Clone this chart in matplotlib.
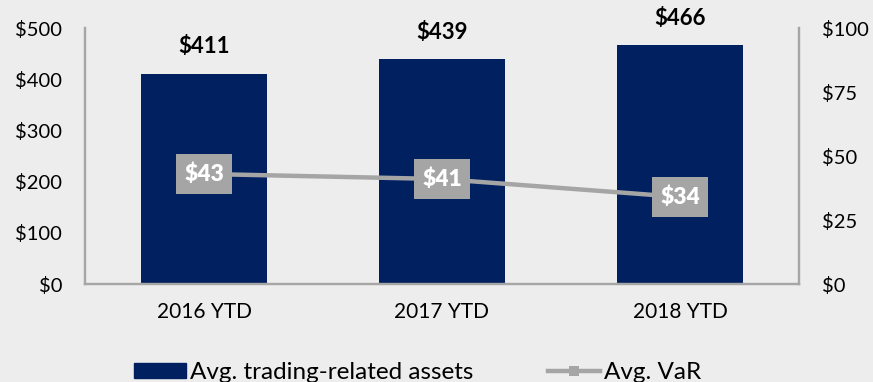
import matplotlib
matplotlib.use("Agg")
import matplotlib.pyplot as plt
from matplotlib.patches import Patch
from matplotlib.lines import Line2D
import numpy as np

# Data
years = ["2016 YTD", "2017 YTD", "2018 YTD"]
trading_assets = [411, 439, 466]
var_values = [43, 41, 34]
left_ticks = [0, 100, 200, 300, 400, 500]
right_ticks = [0, 25, 50, 75, 100]

bar_color = "#002060"
var_color = "#A5A5A5"
bg_color = "#EDEDED"
spine_color = "#A6A6A6"

plt.rcParams["font.family"] = ["Lato", "DejaVu Sans"]

fig = plt.figure(figsize=(8.73, 3.82), dpi=100, facecolor=bg_color)
ax = fig.add_axes([0.0974, 0.2565, 0.8178, 0.6702])
ax.set_facecolor(bg_color)

x = np.arange(len(years))
ax.bar(x, trading_assets, width=0.526, color=bar_color, zorder=2)
ax.set_xlim(-0.5, 2.5)
ax.set_ylim(0, 500)
ax.set_yticks(left_ticks)
ax.set_yticklabels(["$%d" % v for v in left_ticks], fontsize=14.5)
ax.set_xticks(x)
ax.set_xticklabels(years, fontsize=15)
ax.tick_params(axis="y", length=0, pad=16.5)
ax.tick_params(axis="x", length=0, pad=13)

for xi, v in zip(x, trading_assets):
    ax.annotate("$%d" % v, (xi, v), xytext=(0, 19.5), textcoords="offset points",
                ha="center", va="center", fontsize=16, fontweight="bold")

# Right axis for VaR, rectangular boxes as markers
ax2 = ax.twinx()
ax2.set_ylim(0, 100)
ax2.set_yticks(right_ticks)
ax2.set_yticklabels(["$%d" % v for v in right_ticks], fontsize=14.5)
ax2.tick_params(axis="y", length=0, pad=16.5)
box = [(-1, -0.70), (1, -0.70), (1, 0.70), (-1, 0.70), (-1, -0.70)]
ax2.plot(x, var_values, color=var_color, linewidth=3.2, marker=box,
         markersize=41, markeredgewidth=0, zorder=3)
for xi, v in zip(x, var_values):
    ax2.text(xi, v, "$%d" % v, ha="center", va="center", color="white",
             fontsize=16.5, fontweight="heavy", zorder=4)

for a in (ax, ax2):
    a.spines["top"].set_visible(False)
    for s in ("left", "right", "bottom"):
        a.spines[s].set_color(spine_color)
        a.spines[s].set_linewidth(1.6)

handles = [Patch(color=bar_color),
           Line2D([0], [0], color=var_color, linewidth=3.2, marker="s",
                  markersize=6.5, markeredgewidth=0)]
fig.legend(handles, ["Avg. trading-related assets", "Avg. VaR"], loc="center left",
           bbox_to_anchor=(122 / 873, 0.024), ncol=2, frameon=False, fontsize=17.5,
           borderpad=0, handlelength=2.14, handleheight=0.58, handletextpad=0.17,
           columnspacing=3.05)

fig.savefig("out.png", dpi=100, facecolor=bg_color)
